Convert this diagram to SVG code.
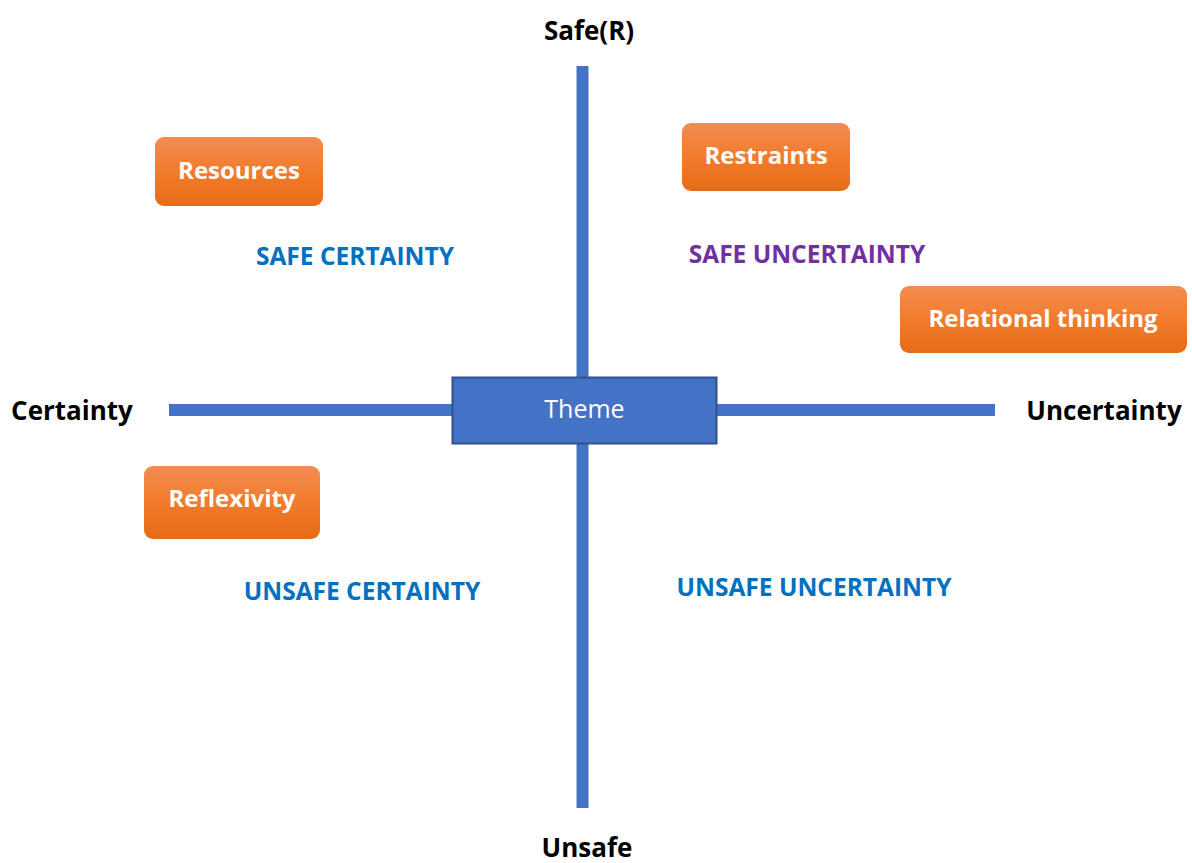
<svg xmlns="http://www.w3.org/2000/svg" width="1192" height="863" viewBox="0 0 1192 863">
  <defs>
    <linearGradient id="orange" x1="0" y1="0" x2="0" y2="1">
      <stop offset="0" stop-color="#F28C52"/>
      <stop offset="0.5" stop-color="#F27B2C"/>
      <stop offset="1" stop-color="#E56C17"/>
    </linearGradient>
  </defs>
  <style>
    text { font-family: "Open Sans", "Liberation Sans", sans-serif; font-weight: bold; text-anchor: middle; dominant-baseline: central; }
    .axis-label { font-size: 26px; fill: #000000; }
    .quad { font-size: 24.5px; fill: #0070C0; }
    .quad-purple { fill: #7030A0; }
    .box { fill: url(#orange); }
    .box-text { font-size: 24px; fill: #FFFFFF; }
    .axis { stroke: #4472C4; stroke-width: 12; fill: none; }
  </style>

  <!-- axes -->
  <g id="connectors">
    <line class="axis" x1="582.5" y1="66" x2="582.5" y2="808"/>
    <line class="axis" x1="169" y1="410" x2="995" y2="410"/>
  </g>

  <!-- central theme -->
  <g id="theme">
    <rect x="452.5" y="377.5" width="264" height="66" fill="#4472C4" stroke="#2F528F" stroke-width="2"/>
    <text x="584.5" y="408" style="font-weight: normal; font-size: 25px; fill: #FFFFFF;">Theme</text>
  </g>

  <!-- axis end labels -->
  <g id="label-safe"><text class="axis-label" x="589" y="30">Safe(R)</text></g>
  <g id="label-unsafe"><text class="axis-label" x="587" y="847">Unsafe</text></g>
  <g id="label-certainty"><text class="axis-label" x="72" y="410">Certainty</text></g>
  <g id="label-uncertainty"><text class="axis-label" x="1104" y="410">Uncertainty</text></g>

  <!-- quadrant labels -->
  <g id="q-safe-certainty"><text class="quad" x="355" y="255">SAFE CERTAINTY</text></g>
  <g id="q-safe-uncertainty"><text class="quad quad-purple" x="807" y="253">SAFE UNCERTAINTY</text></g>
  <g id="q-unsafe-certainty"><text class="quad" x="362" y="590">UNSAFE CERTAINTY</text></g>
  <g id="q-unsafe-uncertainty"><text class="quad" x="814" y="586">UNSAFE UNCERTAINTY</text></g>

  <!-- factor boxes -->
  <g id="resources">
    <rect class="box" x="155" y="137" width="168" height="69" rx="9"/>
    <text class="box-text" x="239" y="169">Resources</text>
  </g>
  <g id="restraints">
    <rect class="box" x="682" y="123" width="168" height="68" rx="9"/>
    <text class="box-text" x="766" y="154">Restraints</text>
  </g>
  <g id="relational-thinking">
    <rect class="box" x="900" y="286" width="287" height="67" rx="9"/>
    <text class="box-text" x="1043" y="317">Relational thinking</text>
  </g>
  <g id="reflexivity">
    <rect class="box" x="144" y="466" width="176" height="73" rx="9"/>
    <text class="box-text" x="232" y="497">Reflexivity</text>
  </g>
</svg>
